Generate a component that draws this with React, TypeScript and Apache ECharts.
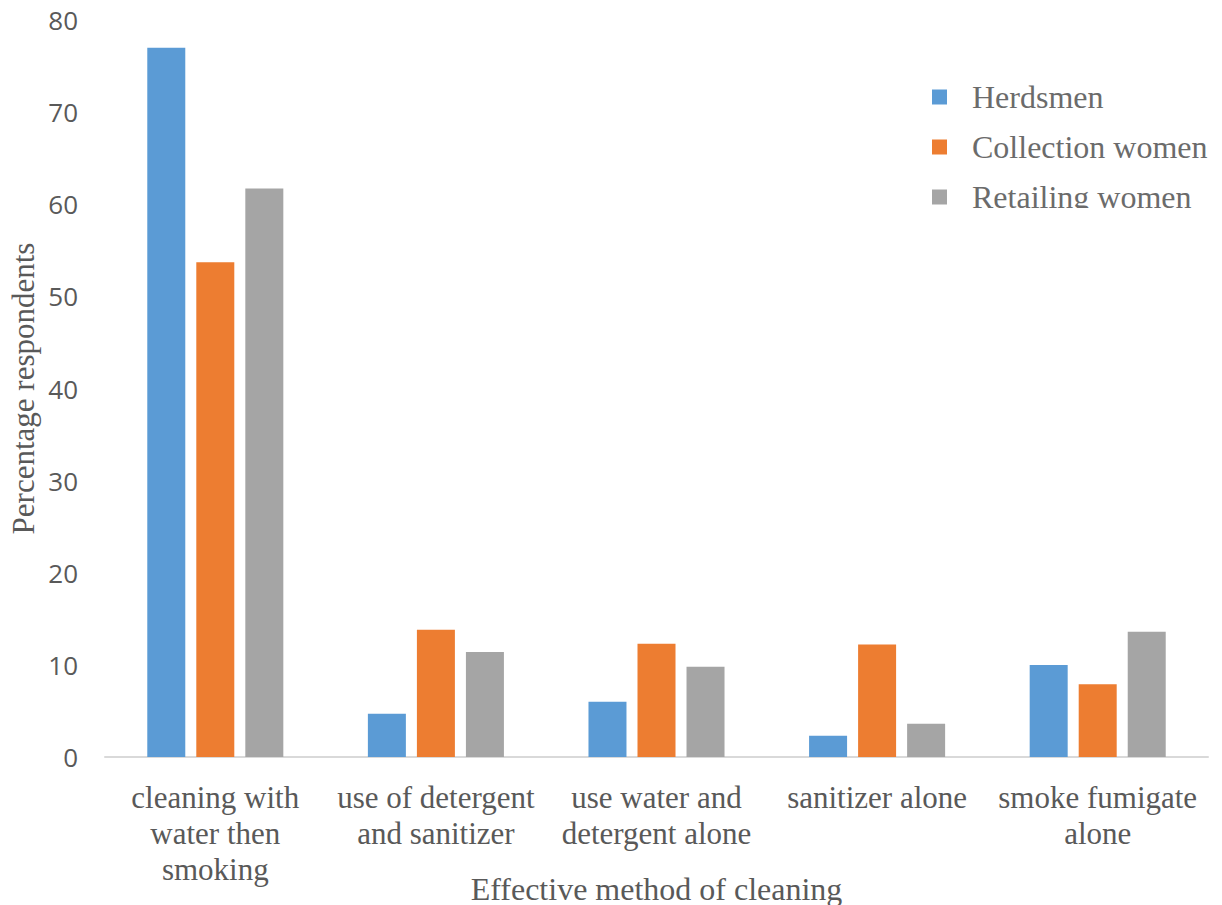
import React, { useEffect, useRef } from "react";
import * as echarts from "echarts";

const categories = [
  "cleaning with\nwater then\nsmoking",
  "use of detergent\nand sanitizer",
  "use water and\ndetergent alone",
  "sanitizer alone",
  "smoke fumigate\nalone",
];
const herdsmen = [77.0, 4.7, 6.0, 2.3, 10.0];
const collectionWomen = [53.7, 13.8, 12.3, 12.2, 7.9];
const retailingWomen = [61.7, 11.4, 9.8, 3.6, 13.6];
const seriesNames = ["Herdsmen", "Collection women", "Retailing women"];
const colors = ["#5B9BD5", "#ED7D31", "#A5A5A5"];

const SERIF = "'Liberation Serif', 'Times New Roman', serif";
const SANS = "'Open Sans', 'Noto Sans', sans-serif";

export default function App() {
  const ref = useRef<HTMLDivElement>(null);
  useEffect(() => {
    if (!ref.current) return;
    const chart = echarts.init(ref.current, null, { renderer: "svg" });
    const data = [herdsmen, collectionWomen, retailingWomen];
    chart.setOption({
      animation: false,
      backgroundColor: "#ffffff",
      grid: {
        left: 105,
        right: 14,
        top: 20,
        bottom: 148,
        containLabel: false,
        outerBoundsMode: "none",
      },
      legend: {
        orient: "vertical",
        left: 932,
        top: 81,
        padding: 0,
        itemWidth: 15,
        itemHeight: 15,
        itemGap: 18,
        icon: "rect",
        data: seriesNames,
        textStyle: {
          fontFamily: SERIF,
          fontSize: 32,
          color: "#6b6b6b",
          padding: [0, 0, 0, 20],
        },
      },
      xAxis: {
        type: "category",
        data: categories,
        name: "Effective method of cleaning",
        nameLocation: "middle",
        nameGap: 116,
        nameMoveOverlap: false,
        nameTextStyle: { fontFamily: SERIF, fontSize: 32, color: "#595959" },
        axisLine: { show: true, lineStyle: { color: "#d9d9d9", width: 2 } },
        axisTick: { show: false },
        axisLabel: {
          interval: 0,
          fontFamily: SERIF,
          fontSize: 31,
          lineHeight: 36,
          color: "#595959",
          margin: 22,
        },
      },
      yAxis: {
        type: "value",
        min: 0,
        max: 80,
        interval: 10,
        name: "Percentage respondents",
        nameLocation: "middle",
        nameGap: 66,
        nameMoveOverlap: false,
        nameTextStyle: { fontFamily: SERIF, fontSize: 31, color: "#595959" },
        axisLine: { show: false },
        axisTick: { show: false },
        splitLine: { show: false },
        axisLabel: {
          fontFamily: SANS,
          fontSize: 26,
          color: "#595959",
          margin: 27,
        },
      },
      series: seriesNames.map((name, i) => ({
        name,
        type: "bar",
        data: data[i],
        barWidth: 38,
        barGap: "29%",
        itemStyle: { color: colors[i] },
      })),
      graphic: [
        {
          type: "rect",
          left: 955,
          top: 208,
          shape: { width: 267, height: 12 },
          style: { fill: "#ffffff" },
          z: 100,
        },
      ],
    });
    return () => chart.dispose();
  }, []);
  return (
    <div
      ref={ref}
      style={{ position: "fixed", left: 0, top: 0, width: 1222, height: 905 }}
    />
  );
}
